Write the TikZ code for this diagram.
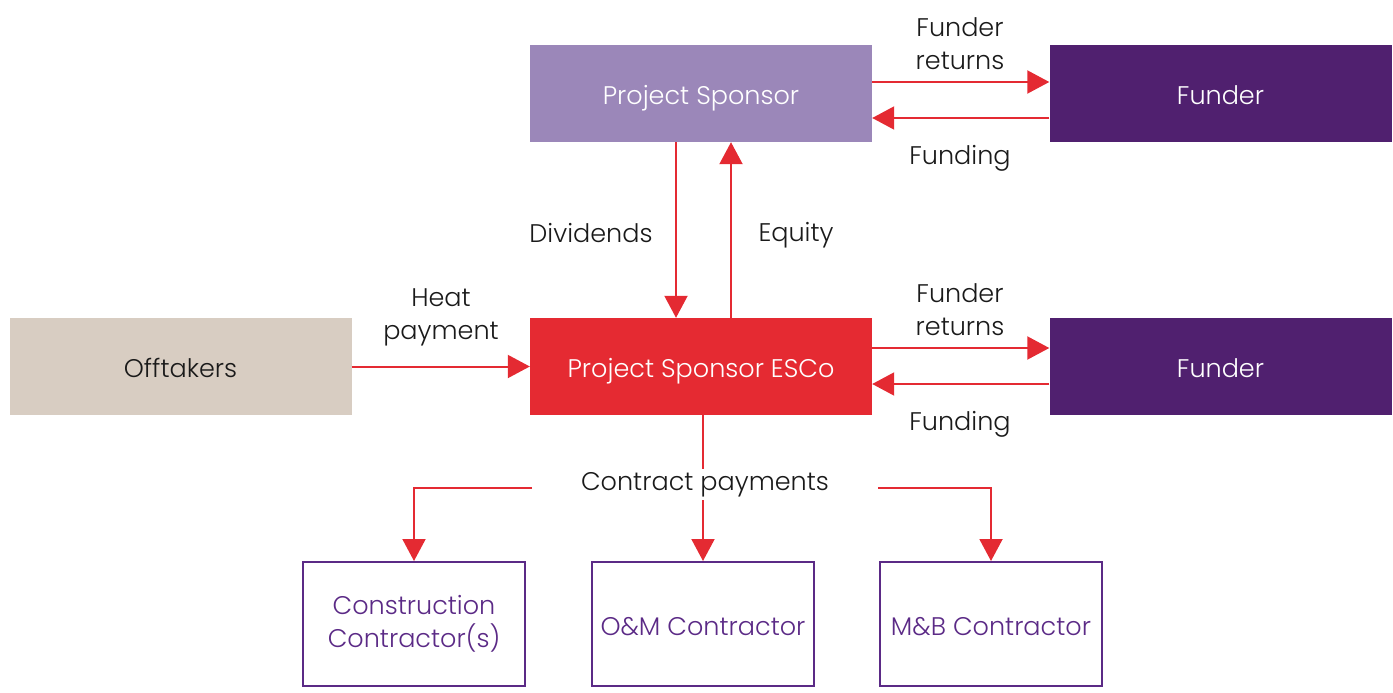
\documentclass[tikz,border=0pt]{standalone}
\usepackage{fontspec}
\setmainfont{Poppins Light}
\usetikzlibrary{arrows.meta}
\definecolor{sponsor}{HTML}{9B87B9}
\definecolor{funder}{HTML}{50206F}
\definecolor{offtk}{HTML}{D8CDC2}
\definecolor{esco}{HTML}{E52A32}
\definecolor{arrowred}{HTML}{E42A32}
\definecolor{contr}{HTML}{5B2A86}
\definecolor{txt}{HTML}{1A1A1A}
\begin{document}
\begin{tikzpicture}[x=1pt,y=-1pt,
  every node/.style={font=\fontsize{25.5}{33}\selectfont, text=txt},
  filled/.style={minimum width=342pt, minimum height=97pt, inner sep=0pt, draw=none, text=white, text height=22pt, text depth=0pt},
  cbox/.style={minimum width=222pt, minimum height=124pt, inner sep=0pt, draw=contr, line width=2pt, text=contr, align=center},
  lbl/.style={align=center, inner sep=0pt},
  conn/.style={draw=arrowred, line width=2pt},
  arr/.style={conn, -{Triangle[length=22pt,width=23pt]}}]
\useasboundingbox (0,0) rectangle (1393,693);
% boxes
\node[filled, fill=sponsor] (sp) at (701,93.5) {Project Sponsor};
\node[filled, fill=funder] (f1) at (1220.5,93.5) {Funder};
\node[filled, fill=offtk, text=txt] (off) at (180.5,366.5) {Offtakers};
\node[filled, fill=esco] (esco) at (701,366.5) {Project Sponsor ESCo};
\node[filled, fill=funder] (f2) at (1220.5,366.5) {Funder};
\node[cbox] (cc) at (414,624) {Construction\\Contractor(s)};
\node[cbox, text height=22pt, text depth=0pt] (om) at (703,624) {O\&M Contractor};
\node[cbox, text height=22pt, text depth=0pt] (mb) at (991,624) {M\&B Contractor};
% top funder arrows
\draw[arr] ([yshift=11.5pt]sp.east) -- ([yshift=11.5pt]f1.west);
\draw[arr] ([yshift=-24.5pt]f1.west) -- ([yshift=-24.5pt]sp.west -| sp.east);
\node[lbl] (fr1) at (960,44) {Funder\\returns};
\node[lbl] (fd1) at (960,158) {Funding};
% dividends / equity
\draw[arr] ([xshift=-25pt]sp.south) -- ([xshift=-25pt]esco.north);
\draw[arr] ([xshift=30pt]esco.north) -- ([xshift=30pt]sp.south);
\node[lbl] (div) at (591,233) {Dividends};
\node[lbl] (eq) at (796,235) {Equity};
% heat payment
\draw[arr] (off.east) -- (esco.west);
\node[lbl] (hp) at (441,317.5) {Heat\\payment};
% bottom funder arrows
\draw[arr] ([yshift=18.5pt]esco.east) -- ([yshift=18.5pt]f2.west);
\draw[arr] ([yshift=-17.5pt]f2.west) -- ([yshift=-17.5pt]esco.east);
\node[lbl] (fr2) at (960,310) {Funder\\returns};
\node[lbl] (fd2) at (960,424) {Funding};
% contract payments
\node[lbl] (cp) at (705,485) {Contract payments};
\coordinate (cpTop) at (703,469);
\coordinate (cpBot) at (703,500);
\coordinate (cpL) at (532,488);
\coordinate (cpR) at (878,488);
\draw[conn] ([xshift=2pt]esco.south) -- (cpTop);
\draw[arr] (cpBot) -- (om.north);
\draw[arr] (cpL) -| (cc.north);
\draw[arr] (cpR) -| (mb.north);
\end{tikzpicture}
\end{document}
